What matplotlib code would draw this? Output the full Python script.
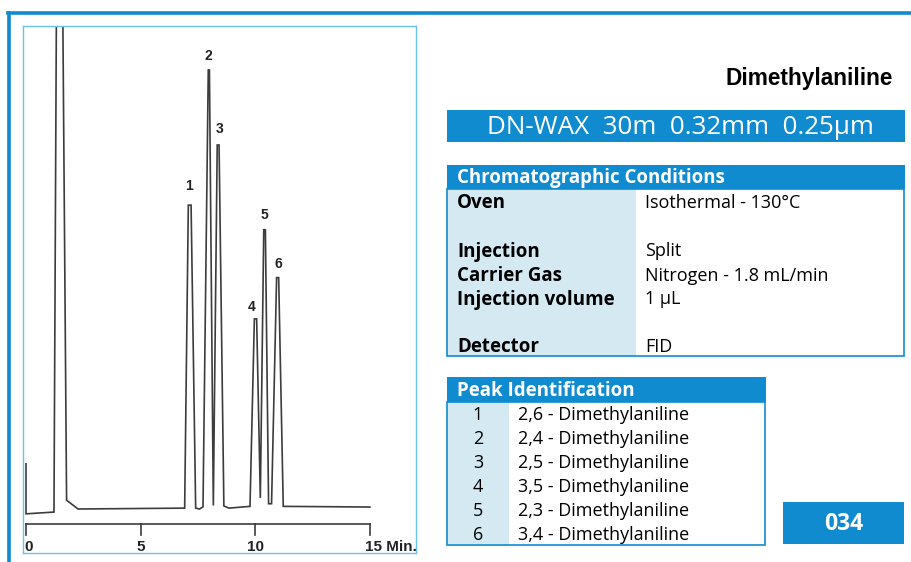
import matplotlib
matplotlib.use('Agg')
import matplotlib.pyplot as plt
from matplotlib.patches import Rectangle

# chromatogram trace (time in min, signal in % of peak 2)
times = [0, 0, 1.22, 1.36, 1.55, 1.77, 2.27, 6.92, 7.08, 7.2, 7.4, 7.57, 7.72,
         7.95, 8.0, 8.17, 8.34, 8.42, 8.63, 8.85, 9.77, 9.96, 10.06, 10.22,
         10.37, 10.44, 10.58, 10.71, 10.93, 11.02, 11.22, 15.0]
signal = [10.3, -1.1, -0.7, 150, 150, 2.0, 0.0, 0.2, 69.2, 69.2, 0.2, 0.0, 0.5,
          100, 100, 0.8, 82.9, 82.9, 0.7, 0.2, 0.6, 43.3, 43.3, 2.5,
          63.6, 63.6, 1.2, 1.2, 52.7, 52.7, 0.6, 0.45]

peak_ids = ['1', '2', '3', '4', '5', '6']
peak_t = [7.1, 7.93, 8.46, 9.86, 10.39, 11.0]
peak_lbl_y = [73.6, 103.2, 86.6, 46.0, 67.0, 55.8]

ticks = [0, 5, 10, 15]
tick_labels = ['0', '5', '10', '15 Min.']

column = 'DN-WAX  30m  0.32mm  0.25µm'
cond_names = ['Oven', 'Injection', 'Carrier Gas', 'Injection volume', 'Detector']
cond_values = ['Isothermal - 130°C', 'Split', 'Nitrogen - 1.8 mL/min', '1 µL', 'FID']
cond_rows = [0, 2, 3, 4, 6]
compounds = ['2,6 - Dimethylaniline', '2,4 - Dimethylaniline', '2,5 - Dimethylaniline',
             '3,5 - Dimethylaniline', '2,3 - Dimethylaniline', '3,4 - Dimethylaniline']

blue = '#108bd0'
light = '#d5e9f3'
ink = '#3c3c3c'
W, H = 912, 562

fig = plt.figure(figsize=(9.12, 5.62), dpi=100)


def fx(x):
    return x / W


def fy(y):
    return 1 - y / H


def box(x0, y0, x1, y1, **kw):
    fig.add_artist(Rectangle((fx(x0), fy(y1)), fx(x1) - fx(x0), fy(y0) - fy(y1),
                             transform=fig.transFigure, **kw))


def txt(x, y, s, **kw):
    fig.text(fx(x), fy(y), s, va='center', **kw)


# outer frame
fig.add_artist(plt.Line2D([fx(9.5), fx(9.5)], [fy(12.5), 0], color=blue, lw=2.6,
                          transform=fig.transFigure))
fig.add_artist(plt.Line2D([fx(8.2), 1], [fy(12.5), fy(12.5)], color=blue, lw=2.6,
                          transform=fig.transFigure))

# chromatogram
ax = fig.add_axes([fx(23), fy(553), fx(416) - fx(23), fy(26) - fy(553)])
ax.set_xlim(-0.131, 17.01)
ax.set_ylim(-10.02, 110.0)
for sp in ax.spines.values():
    sp.set_color('#6cc0ec')
    sp.set_linewidth(1.0)
ax.set_xticks([])
ax.set_yticks([])
ax.plot(times, signal, color=ink, lw=1.2, solid_joinstyle='miter')
for p, t, yy in zip(peak_ids, peak_t, peak_lbl_y):
    ax.text(t, yy, p, ha='center', va='center', fontsize=10, fontweight='bold',
            family='Liberation Sans', color='#222222')
ax.plot([0, 15], [-3.42, -3.42], color=ink, lw=1.2)
for t, lab in zip(ticks, tick_labels):
    ax.plot([t, t], [-3.42, -5.9], color=ink, lw=1.2)
    if lab == '15 Min.':
        ax.text(t - 0.2, -8.7, lab, ha='left', va='center', fontsize=11,
                fontweight='bold', family='Liberation Sans', color='#222222')
    else:
        ax.text(t + (0.1 if t == 0 else 0), -8.7, lab, ha='center', va='center',
                fontsize=11, fontweight='bold', family='Liberation Sans', color='#222222')

# title and column band
txt(893, 78, 'Dimethylaniline', ha='right', fontsize=16.3, fontweight='bold',
    family='Liberation Sans', color='black')
box(447, 110, 905, 142, color=blue, lw=0)
txt(680, 127, column, ha='center', fontsize=18.7, family='Open Sans', color='white')

# chromatographic conditions table
box(447, 165, 905, 189, color=blue, lw=0)
txt(457, 178, 'Chromatographic Conditions', ha='left', fontsize=13.4,
    fontweight='bold', family='Open Sans', color='white')
box(447, 189, 636, 356, color=light, lw=0)
box(447.5, 189, 904, 356, fill=False, ec=blue, lw=1.2)
for name, val, r in zip(cond_names, cond_values, cond_rows):
    y = 203.5 + r * 24
    txt(457, y, name, ha='left', fontsize=13.5, fontweight='bold', family='Open Sans',
        color='black')
    txt(645, y, val, ha='left', fontsize=13, family='Open Sans', color='black')

# peak identification table
box(447, 377, 766, 402, color=blue, lw=0)
txt(457, 391, 'Peak Identification', ha='left', fontsize=13.5, fontweight='bold',
    family='Open Sans', color='white')
box(447, 402, 509, 545, color=light, lw=0)
box(447.5, 402, 765.5, 545, fill=False, ec=blue, lw=1.2)
for i, (p, c) in enumerate(zip(peak_ids, compounds)):
    y = 414.5 + i * 24
    txt(478, y, p, ha='center', fontsize=13, family='Open Sans', color='black')
    txt(518, y, c, ha='left', fontsize=13, family='Open Sans', color='black')

# code box
box(783, 502, 904, 544, color=blue, lw=0)
txt(843.5, 523.5, '034', ha='center', fontsize=16.5, fontweight='bold',
    family='Open Sans', color='white')

fig.savefig('out.png', dpi=100, facecolor='white')
